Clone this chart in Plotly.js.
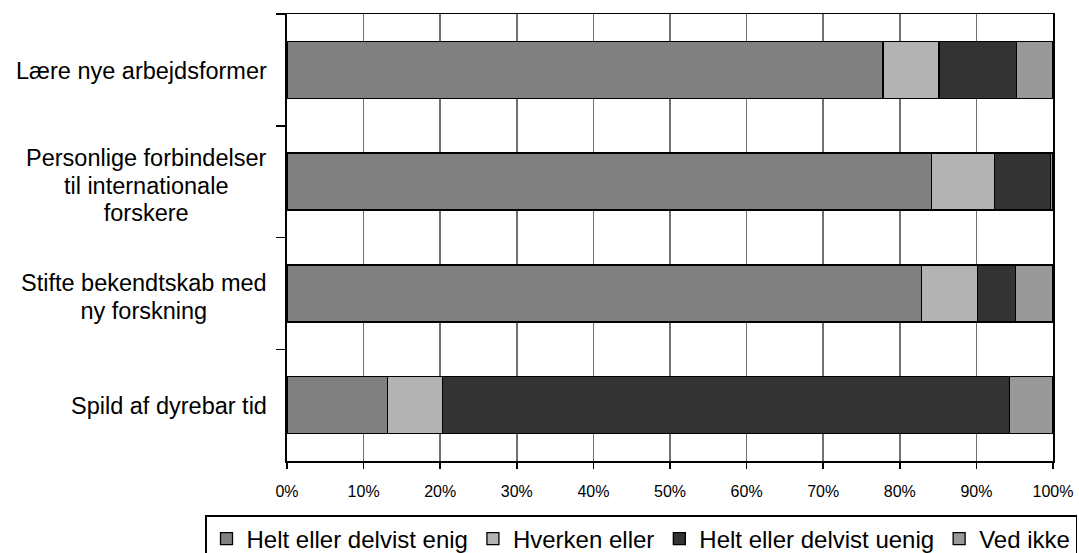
<!DOCTYPE html>
<html>
<head>
<meta charset="utf-8">
<script src="https://cdn.plot.ly/plotly-3.0.1.min.js"></script>
<style>
  html, body { margin: 0; padding: 0; background: #fff; overflow: hidden; width: 1079px; height: 553px; }
  #chart { width: 1130px; height: 580px; }
</style>
</head>
<body>
<div id="chart"></div>
<script>
// Categories (top to bottom)
const categories = [
  "Lære nye arbejdsformer",
  "Personlige forbindelser<br>til internationale<br>forskere",
  "Stifte bekendtskab med<br>ny forskning",
  "Spild af dyrebar tid"
];
const seriesNames = ["Helt eller delvist enig", "Hverken eller", "Helt eller delvist uenig", "Ved ikke"];
const enig    = [77.8, 84.1, 82.8, 13.1];
const hverken = [7.3, 8.3, 7.3, 7.2];
const uenig   = [10.1, 7.3, 5.0, 74.0];
const vedIkke = [4.8, 0.3, 4.9, 5.7];
const xTickVals = [0, 10, 20, 30, 40, 50, 60, 70, 80, 90, 100];
const xTickText = ["0%", "10%", "20%", "30%", "40%", "50%", "60%", "70%", "80%", "90%", "100%"];

const colors = ["#808080", "#b3b3b3", "#333333", "#999999"];
const seriesValues = [enig, hverken, uenig, vedIkke];

const FONT = "Liberation Sans, Arial, sans-serif";

const traces = seriesValues.map((vals, i) => ({
  type: "bar",
  orientation: "h",
  name: seriesNames[i],
  x: vals,
  y: categories,
  marker: { color: colors[i], line: { color: "#000", width: 1.3 } },
  hoverinfo: "x+name"
}));

// Category labels: larger glyphs with tighter line spacing (base size sets spacing)
const annotations = categories.map(c => {
  const lines = c.split("<br>");
  return {
    xref: "paper", yref: "y",
    x: 0, y: c,
    xanchor: "right", yanchor: "middle",
    xshift: -18,
    yshift: lines.length > 1 ? -4 : -1,
    align: "center",
    showarrow: false,
    text: lines.map(l => '<span style="font-size:23.5px">' + l + '</span>').join("<br>"),
    font: { family: FONT, size: 21.2, color: "#000" }
  };
});

const W = 1130, H = 580;
const plotL = 287, plotR = 1053, plotT = 14, plotB = 461;
const plotW = plotR - plotL, plotH = plotB - plotT;

const layout = {
  width: W, height: H,
  margin: { l: plotL, r: W - plotR, t: plotT, b: H - plotB },
  paper_bgcolor: "#fff", plot_bgcolor: "#fff",
  barmode: "stack",
  bargap: 0.49,
  showlegend: true,
  font: { family: FONT, color: "#000" },
  xaxis: {
    range: [0, 100],
    tickvals: xTickVals,
    ticktext: xTickText,
    tickfont: { size: 16, color: "#000" },
    ticks: "outside", ticklen: 6, tickcolor: "#000", tickwidth: 1.5,
    ticklabelstandoff: 9,
    showgrid: true, gridcolor: "#707070", gridwidth: 1.5,
    showline: true, linecolor: "#000", linewidth: 1.5, mirror: true,
    zeroline: false, fixedrange: true
  },
  yaxis: {
    type: "category",
    autorange: false,
    range: [3.5, -0.5],
    showticklabels: false,
    tickson: "boundaries",
    ticks: "outside", ticklen: 9, tickcolor: "#000", tickwidth: 1.5,
    showgrid: false,
    showline: true, linecolor: "#000", linewidth: 2, mirror: true,
    zeroline: false, fixedrange: true
  },
  legend: {
    orientation: "h",
    x: (205 - plotL) / plotW, xanchor: "left",
    y: -(515 - plotB) / plotH, yanchor: "top",
    bordercolor: "#000", borderwidth: 1.5,
    font: { size: 24, color: "#000" },
    traceorder: "normal",
    itemwidth: 30
  },
  annotations: annotations
};

Plotly.newPlot("chart", traces, layout, { displayModeBar: false, staticPlot: true });
</script>
</body>
</html>
